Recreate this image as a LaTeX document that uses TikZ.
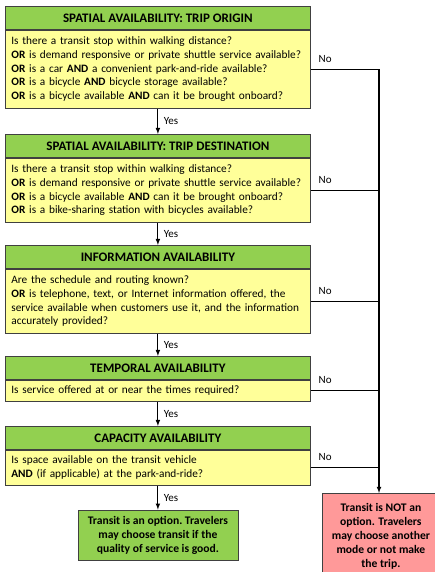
\documentclass[tikz,border=0pt]{standalone}
\usepackage{fontspec}
\setmainfont{Carlito}
\usetikzlibrary{arrows}
\usetikzlibrary{positioning}
\definecolor{hdrgreen}{RGB}{146,208,80}
\definecolor{qyellow}{RGB}{255,255,153}
\definecolor{nored}{RGB}{255,153,153}
\tikzset{
    header/.style={
        draw=black!75,line width=0.8pt,fill=hdrgreen,
        minimum width=305pt,minimum height=23pt,inner sep=0pt,
        font=\bfseries\fontsize{13}{15}\selectfont,anchor=north west
    },
    question/.style={
        draw=black!75,line width=0.8pt,fill=qyellow,
        text width=293pt,inner xsep=6pt,inner ysep=0pt,align=left,
        font=\fontsize{11.3}{13.7}\selectfont,anchor=north west
    },
    outcome/.style={
        draw=black!75,line width=0.8pt,align=center,inner sep=2pt,
        font=\bfseries\fontsize{11.6}{14}\selectfont
    },
    yesarrow/.style={-latex,line width=1.1pt},
    noline/.style={line width=1.1pt},
    answer/.style={font=\fontsize{11}{13}\selectfont},
}

\begin{document}
\begin{tikzpicture}[x=1pt,y=-1pt]
\useasboundingbox (0,0) rectangle (435,572);
\coordinate (rail) at (379,0);
% question blocks
\node[header] (h1) at (5,6) {SPATIAL AVAILABILITY: TRIP ORIGIN};
\node[question,minimum height=78pt] (q1) at (h1.south west) {Is there a transit stop within walking distance?\\
\textbf{OR} is demand responsive or private shuttle service available?\\
\textbf{OR} is a car \textbf{AND} a convenient park-and-ride available?\\
\textbf{OR} is a bicycle \textbf{AND} bicycle storage available?\\
\textbf{OR} is a bicycle available \textbf{AND} can it be brought onboard?};
\node[header] (h2) at (5,134) {SPATIAL AVAILABILITY: TRIP DESTINATION};
\node[question,minimum height=64pt] (q2) at (h2.south west) {Is there a transit stop within walking distance?\\
\textbf{OR} is demand responsive or private shuttle service available?\\
\textbf{OR} is a bicycle available \textbf{AND} can it be brought onboard?\\
\textbf{OR} is a bike-sharing station with bicycles available?};
\node[header] (h3) at (5,245) {INFORMATION AVAILABILITY};
\node[question,minimum height=64pt] (q3) at (h3.south west) {Are the schedule and routing known?\\
\textbf{OR} is telephone, text, or Internet information offered, the\\
service available when customers use it, and the information\\
accurately provided?};
\node[header] (h4) at (5,356) {TEMPORAL AVAILABILITY};
\node[question,minimum height=21pt] (q4) at (h4.south west) {Is service offered at or near the times required?};
\node[header] (h5) at (5,426) {CAPACITY AVAILABILITY};
\node[question,minimum height=35pt] (q5) at (h5.south west) {Is space available on the transit vehicle\\
\textbf{AND} (if applicable) at the park-and-ride?};
% outcomes
\node[outcome,fill=hdrgreen,minimum width=160pt,minimum height=50pt,anchor=north] (isoption) at ([yshift=-24pt]q5.south) {Transit is an option.\ Travelers\\ may choose transit if the\\ quality of service is good.};
\node[outcome,fill=nored,minimum width=117pt,minimum height=86pt,anchor=north west] (notoption) at (322,493) {Transit is NOT an\\ option. Travelers\\ may choose another\\ mode or not make\\ the trip.};
% yes arrows
\draw[yesarrow] (q1.south) -- (h2.north) node[answer,midway,right=2pt]{Yes};
\draw[yesarrow] (q2.south) -- (h3.north) node[answer,midway,right=2pt]{Yes};
\draw[yesarrow] (q3.south) -- (h4.north) node[answer,midway,right=2pt]{Yes};
\draw[yesarrow] (q4.south) -- (h5.north) node[answer,midway,right=2pt]{Yes};
\draw[yesarrow] (q5.south) -- (isoption.north) node[answer,midway,right=2pt]{Yes};
% no lines
\draw[noline] (q1.east) -- (q1.east -| rail) node[answer,pos=0,above right=3pt and 4pt]{No};
\draw[noline,-latex] (q1.east -| rail) -- (rail |- notoption.north);
\draw[noline] (q2.east) -- (q2.east -| rail) node[answer,pos=0,above right=3pt and 4pt]{No};
\draw[noline] (q3.east) -- (q3.east -| rail) node[answer,pos=0,above right=3pt and 4pt]{No};
\draw[noline] (q4.east) -- (q4.east -| rail) node[answer,pos=0,above right=3pt and 4pt]{No};
\draw[noline] (q5.east) -- (q5.east -| rail) node[answer,pos=0,above right=3pt and 4pt]{No};
\end{tikzpicture}
\end{document}
